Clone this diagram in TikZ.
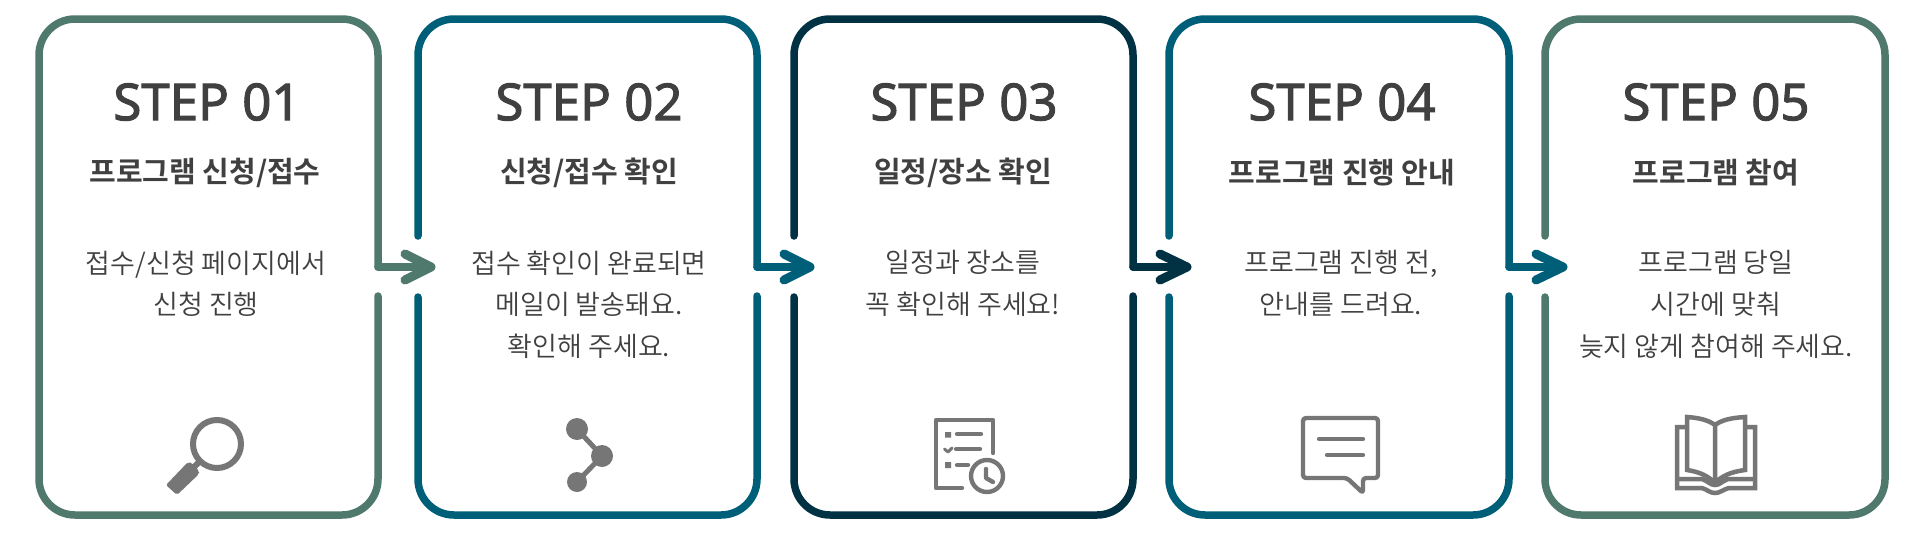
\documentclass[tikz,border=0pt]{standalone}
\usepackage{fontspec}
\setmainfont{Noto Sans CJK KR}
\newfontfamily\stepfont{Noto Sans}[FakeBold=2]
\newfontfamily\subfont{Noto Sans CJK KR Bold}
\newfontfamily\bodyfont{Noto Sans CJK KR DemiLight}
\definecolor{cgreen}{HTML}{4E796C}
\definecolor{cteal}{HTML}{005F78}
\definecolor{cdark}{HTML}{013243}
\definecolor{ctext}{HTML}{404040}
\definecolor{cicon}{HTML}{767676}
\tikzset{
  cardline/.style={line width=7.5pt,line cap=round,line join=round,rounded corners=36pt},
  flowline/.style={line width=7.5pt,line cap=round,line join=round},
  flowhead/.style={line width=9pt,line cap=round,line join=round},
  steptitle/.style={font=\stepfont\fontsize{51}{56}\selectfont,text=ctext,anchor=center,inner sep=0pt},
  subtitle/.style={font=\subfont\fontsize{29}{30}\selectfont,text=ctext,anchor=center,inner sep=0pt},
  bodytext/.style={font=\bodyfont\fontsize{27}{41.6}\selectfont,text=ctext,anchor=north,align=center,inner sep=0pt},
  iconline/.style={draw=cicon,line width=4.4pt,line cap=round,line join=round,fill=none},
}
\begin{document}
\begin{tikzpicture}[x=1pt,y=-1pt]
\useasboundingbox (0,0) rectangle (1920,533);
\fill[white] (0,0) rectangle (1920,533);
% card 1
\coordinate (a1s) at (378,267); \coordinate (a1e) at (431,267);
\draw[cardline,cgreen] (a1s) -- (378,19) -- (39,19) -- (39,515) -- (378,515) -- (378,296);
\draw[flowline,cgreen] (a1s) -- (a1e);
\draw[flowhead,cgreen] (405,254) -- (a1e) -- (405,280);
% card 2
\coordinate (a2s) at (757,267); \coordinate (a2e) at (810,267);
\draw[cardline,cteal] (a2s) -- (757,19) -- (418,19) -- (418,236);
\draw[cardline,cteal] (418,297) -- (418,515) -- (757,515) -- (757,296);
\draw[flowline,cteal] (a2s) -- (a2e);
\draw[flowhead,cteal] (784,254) -- (a2e) -- (784,280);
% card 3
\coordinate (a3s) at (1133,267); \coordinate (a3e) at (1187,267);
\draw[cardline,cdark] (a3s) -- (1133,19) -- (794,19) -- (794,236);
\draw[cardline,cdark] (794,297) -- (794,515) -- (1133,515) -- (1133,296);
\draw[flowline,cdark] (a3s) -- (a3e);
\draw[flowhead,cdark] (1160,254) -- (a3e) -- (1160,280);
% card 4
\coordinate (a4s) at (1509,267); \coordinate (a4e) at (1563,267);
\draw[cardline,cteal] (a4s) -- (1509,19) -- (1169,19) -- (1169,236);
\draw[cardline,cteal] (1169,297) -- (1169,515) -- (1509,515) -- (1509,296);
\draw[flowline,cteal] (a4s) -- (a4e);
\draw[flowhead,cteal] (1536,254) -- (a4e) -- (1536,280);
% card 5
\draw[cardline,cgreen] (1545,236) -- (1545,19) -- (1885,19) -- (1885,515) -- (1545,515) -- (1545,297);
% titles
\node[steptitle] (t1) at (207,102) {STEP 01};
\node[steptitle] (t2) at (589,102) {STEP 02};
\node[steptitle] (t3) at (964,102) {STEP 03};
\node[steptitle] (t4) at (1342,102) {STEP 04};
\node[steptitle] (t5) at (1716,102) {STEP 05};
\node[subtitle] (s1) at (205,173) {프로그램 신청/접수};
\node[subtitle] (s2) at (589,173) {신청/접수 확인};
\node[subtitle] (s3) at (963,173) {일정/장소 확인};
\node[subtitle] (s4) at (1342,173) {프로그램 진행 안내};
\node[subtitle] (s5) at (1716,173) {프로그램 참여};
\node[bodytext] (b1) at (206,250.5) {접수/신청 페이지에서\\신청 진행};
\node[bodytext] (b2) at (589,250.5) {접수 확인이 완료되면\\메일이 발송돼요.\\확인해 주세요.};
\node[bodytext] (b3) at (963,250.5) {일정과 장소를\\꼭 확인해 주세요!};
\node[bodytext] (b4) at (1341,250.5) {프로그램 진행 전,\\안내를 드려요.};
\node[bodytext] (b5) at (1716,250.5) {프로그램 당일\\시간에 맞춰\\늦지 않게 참여해 주세요.};
% magnifier
\draw[cicon,line width=6pt] (217,444) circle (24);
\fill[cicon,rounded corners=2pt] (188,462) -- (192,463) -- (199,471) -- (199,474) -- (177,495) -- (166,485) -- cycle;
\draw[cicon,line width=6pt] (194,467) -- (201,460);
% share
\draw[cicon,line width=5pt] (577,429) -- (602,456) -- (577,482);
\fill[cicon] (577,429) circle (11) (602,456) circle (11) (577,482) circle (10);
% list + clock
\draw[iconline] (993,453) -- (993,420) -- (936,420) -- (936,488) -- (962,488);
\fill[cicon] (945,432) rectangle (951,437.5) (945,462) rectangle (951,468);
\draw[iconline] (957,434) -- (981,434) (956,449) -- (980,449) (957,465) -- (968,465);
\draw[iconline,line width=3pt] (944.5,449) -- (948,452) -- (952,448);
\draw[iconline] (987,476) circle (16);
\draw[iconline] (986,469) -- (986,478) -- (993,482);
% speech bubble
\draw[iconline,rounded corners=3pt] (1303,418) -- (1378,418) -- (1378,478) -- (1363,478) -- (1363,493) -- (1347,478) -- (1303,478) -- cycle;
\draw[iconline] (1319,439) -- (1363,439) (1327,455) -- (1363,455);
% book
\draw[iconline,line width=4.5pt,line cap=butt,line join=miter] (1715,483) -- (1715,425)
  .. controls (1708,420) and (1700,418) .. (1687,417) -- (1687,470)
  .. controls (1700,472) and (1708,476) .. (1715,483)
  .. controls (1722,476) and (1730,472) .. (1745,470) -- (1745,417)
  .. controls (1730,418) and (1722,420) .. (1715,425);
\draw[iconline,line width=4.5pt,line cap=butt,line join=miter] (1687,427) -- (1677,427) -- (1677,488) -- (1702,488)
  .. controls (1708,490) and (1710,493) .. (1715,493)
  .. controls (1720,493) and (1722,490) .. (1729,488) -- (1755,488) -- (1755,427) -- (1745,427);
\draw[iconline,line width=4.5pt,line cap=butt,line join=miter] (1677,479) -- (1702,479)
  .. controls (1708,481) and (1710,485) .. (1715,485)
  .. controls (1720,485) and (1722,481) .. (1728,479) -- (1755,479);
\end{tikzpicture}
\end{document}
